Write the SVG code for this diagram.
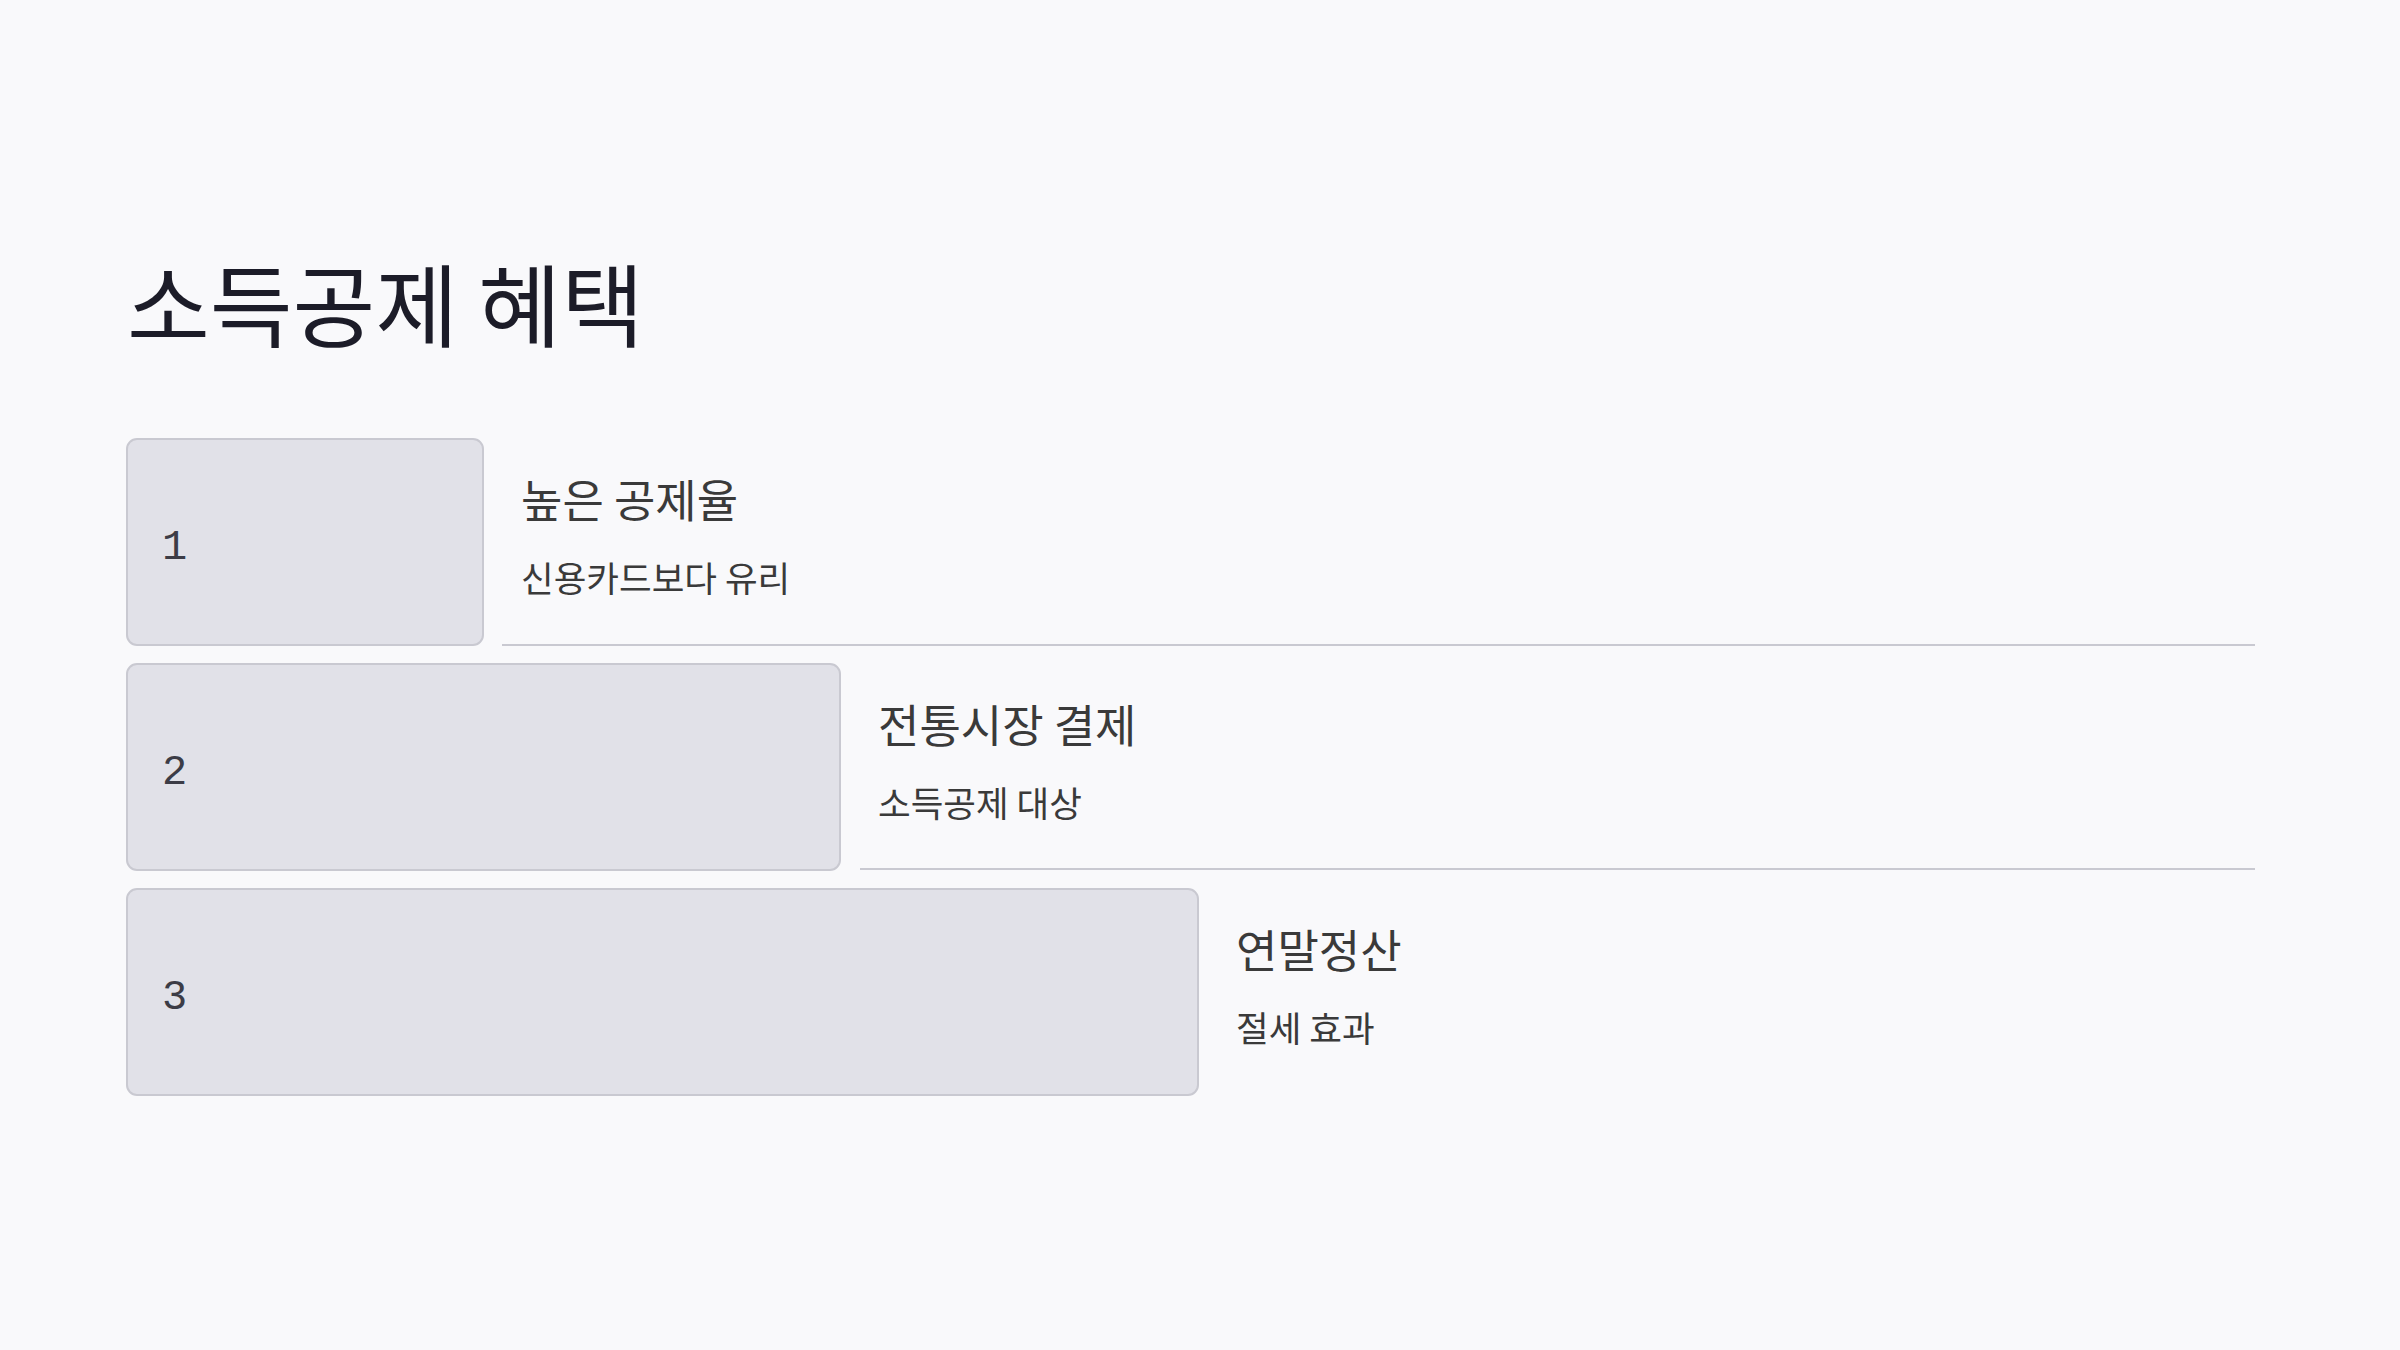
<svg xmlns="http://www.w3.org/2000/svg" width="2400" height="1350" viewBox="0 0 2400 1350">
<style>
.bg{fill:#f9f9fb}
.title{font-family:"Noto Sans CJK KR","Noto Sans",sans-serif;font-size:90px;font-weight:400;fill:#1c1c28}
.box{fill:#e1e1e8;stroke:#c9c9d1;stroke-width:2}
.num{font-family:"Liberation Mono","DejaVu Sans Mono",monospace;font-size:42px;fill:#3c3c46}
.head{font-family:"Noto Sans CJK KR","Noto Sans",sans-serif;font-size:45px;fill:#3a3a3a}
.sub{font-family:"Noto Sans CJK KR","Noto Sans",sans-serif;font-size:35.5px;fill:#3a3a3a}
.sep{stroke:#c9c9d1;stroke-width:2;fill:none}
</style>
<rect class="bg" x="0" y="0" width="2400" height="1350"/>
<text id="title" class="title" x="127" y="340">소득공제 혜택</text>
<g id="connectors">
<line class="sep" x1="502" y1="645" x2="2255" y2="645"/>
<line class="sep" x1="860" y1="869" x2="2255" y2="869"/>
</g>
<g id="item1">
<rect class="box" x="127" y="439" width="356" height="206" rx="10"/>
<text class="num" x="162" y="559">1</text>
<text class="head" x="521" y="518">높은 공제율</text>
<text class="sub" x="521" y="592">신용카드보다 유리</text>
</g>
<g id="item2">
<rect class="box" x="127" y="664" width="713" height="206" rx="10"/>
<text class="num" x="162" y="784">2</text>
<text class="head" x="878" y="743">전통시장 결제</text>
<text class="sub" x="878" y="817">소득공제 대상</text>
</g>
<g id="item3">
<rect class="box" x="127" y="889" width="1071" height="206" rx="10"/>
<text class="num" x="162" y="1009">3</text>
<text class="head" x="1236" y="968">연말정산</text>
<text class="sub" x="1236" y="1042">절세 효과</text>
</g>
</svg>
